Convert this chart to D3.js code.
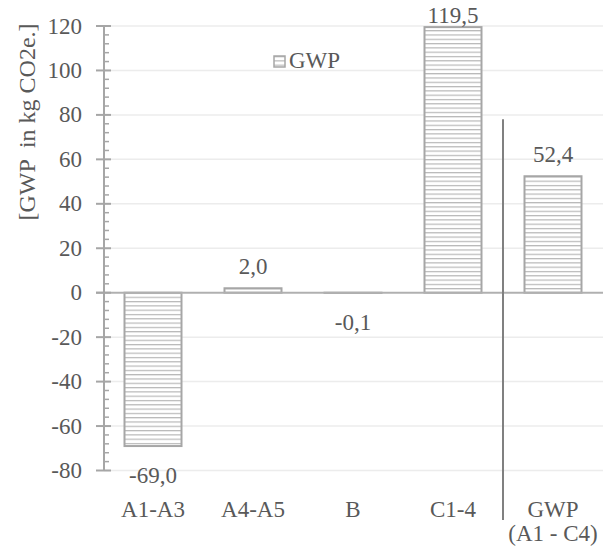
<!DOCTYPE html>
<html>
<head>
<meta charset="utf-8">
<script src="https://cdn.jsdelivr.net/npm/d3@7/dist/d3.min.js"></script>
<style>
  html, body { margin: 0; padding: 0; background: #fff; }
  svg text { font-family: "Liberation Serif", "Times New Roman", serif; fill: #595959; }
</style>
</head>
<body>
<svg id="chart" width="611" height="549"></svg>
<script>
// Life-cycle stages and their global warming potential (kg CO2e.)
const categories = ["A1-A3", "A4-A5", "B", "C1-4", "GWP\n(A1 - C4)"];
const gwpValues = [-69.0, 2.0, -0.1, 119.5, 52.4];
const valueLabels = ["-69,0", "2,0", "-0,1", "119,5", "52,4"];
const yTicks = [-80, -60, -40, -20, 0, 20, 40, 60, 80, 100, 120];
const seriesName = "GWP";
const axisTitle = "[GWP  in kg CO2e.]";

const svg = d3.select("#chart");
const fontSize = 23;

const y = d3.scaleLinear().domain([-80, 120]).range([470.5, 26]);
const x = d3.scaleBand().domain(categories).range([103, 603])
  .paddingInner(0.43).paddingOuter(0.215);

// striped fill for the bars
const defs = svg.append("defs");
const pat = defs.append("pattern")
  .attr("id", "hstripe")
  .attr("patternUnits", "userSpaceOnUse")
  .attr("width", 8).attr("height", 4.3);
pat.append("rect").attr("width", 8).attr("height", 4.3).attr("fill", "#fff");
pat.append("rect").attr("y", 0).attr("width", 8).attr("height", 1.2).attr("fill", "#b8b8b8");

// horizontal gridlines
svg.append("g").selectAll("line")
  .data(yTicks.filter(d => d !== 0))
  .join("line")
  .attr("x1", 104).attr("x2", 603)
  .attr("y1", d => y(d)).attr("y2", d => y(d))
  .attr("stroke", "#ececec").attr("stroke-width", 1.5);

// bars
svg.append("g").selectAll("rect")
  .data(categories.map((c, i) => ({ c, v: gwpValues[i] })))
  .join("rect")
  .attr("x", d => x(d.c))
  .attr("width", x.bandwidth())
  .attr("y", d => y(Math.max(0, d.v)))
  .attr("height", d => Math.abs(y(d.v) - y(0)))
  .attr("fill", "url(#hstripe)")
  .attr("stroke", "#a6a6a6").attr("stroke-width", 2);

// zero baseline
svg.append("line")
  .attr("x1", 96).attr("x2", 603)
  .attr("y1", y(0)).attr("y2", y(0))
  .attr("stroke", "#b0b0b0").attr("stroke-width", 2);

// y axis: line, major and minor ticks
const axisX = 104;
const yAxis = svg.append("g");
yAxis.append("line")
  .attr("x1", axisX).attr("x2", axisX)
  .attr("y1", y(120)).attr("y2", y(-80))
  .attr("stroke", "#a6a6a6").attr("stroke-width", 2);
yAxis.selectAll("line.major")
  .data(yTicks)
  .join("line").attr("class", "major")
  .attr("x1", 96).attr("x2", 111)
  .attr("y1", d => y(d)).attr("y2", d => y(d))
  .attr("stroke", "#a6a6a6").attr("stroke-width", 2);
const minorTicks = d3.range(-80, 121, 4).filter(d => d % 20 !== 0);
yAxis.selectAll("line.minor")
  .data(minorTicks)
  .join("line").attr("class", "minor")
  .attr("x1", axisX).attr("x2", 109)
  .attr("y1", d => y(d)).attr("y2", d => y(d))
  .attr("stroke", "#a6a6a6").attr("stroke-width", 1.5);
yAxis.selectAll("text")
  .data(yTicks)
  .join("text")
  .attr("x", 82).attr("y", d => y(d))
  .attr("text-anchor", "end")
  .attr("dominant-baseline", "central")
  .attr("font-size", fontSize)
  .text(d => d);

// y axis title
svg.append("text")
  .attr("transform", "translate(35,122) rotate(-90)")
  .attr("text-anchor", "middle")
  .attr("font-size", 24)
  .style("white-space", "pre")
  .text(axisTitle);

// value labels
svg.append("g").selectAll("text")
  .data(categories.map((c, i) => ({ c, v: gwpValues[i], t: valueLabels[i] })))
  .join("text")
  .attr("x", d => x(d.c) + x.bandwidth() / 2)
  .attr("y", d => d.v >= 0 ? Math.max(y(d.v) - 14, 23) : y(d.v) + 37)
  .attr("text-anchor", "middle")
  .attr("font-size", fontSize)
  .text(d => d.t);

// category labels
const catG = svg.append("g");
categories.forEach(c => {
  const lines = c.split("\n");
  const t = catG.append("text")
    .attr("x", x(c) + x.bandwidth() / 2)
    .attr("y", 517)
    .attr("text-anchor", "middle")
    .attr("font-size", fontSize);
  lines.forEach((ln, i) => {
    t.append("tspan")
      .attr("x", x(c) + x.bandwidth() / 2)
      .attr("dy", i === 0 ? 0 : 24)
      .text(ln);
  });
});

// separator between the stages and the total
const sepX = (x(categories[3]) + x.bandwidth() + x(categories[4])) / 2;
svg.append("line")
  .attr("x1", sepX).attr("x2", sepX)
  .attr("y1", y(78)).attr("y2", 520)
  .attr("stroke", "#808080").attr("stroke-width", 2);

// legend
const lg = svg.append("g").attr("transform", "translate(274,56)");
lg.append("rect").attr("width", 11).attr("height", 11)
  .attr("fill", "url(#hstripe)")
  .attr("stroke", "#a6a6a6").attr("stroke-width", 1.5);
lg.append("text").attr("x", 15).attr("y", 12)
  .attr("font-size", fontSize)
  .text(seriesName);
</script>
</body>
</html>
